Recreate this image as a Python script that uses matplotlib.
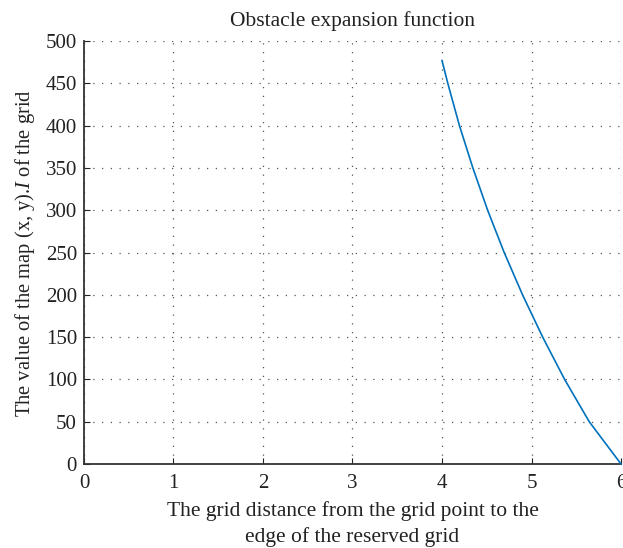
import matplotlib
matplotlib.use("Agg")
import matplotlib.pyplot as plt

# Obstacle expansion curve: grid distance vs. map value
distance = [4.0, 4.065, 4.195, 4.345, 4.51, 4.695, 4.90, 5.125, 5.37, 5.645, 6.0]
map_value = [477, 450, 400, 350, 300, 250, 200, 150, 100, 50, 0]

x_ticks = [0, 1, 2, 3, 4, 5, 6]
y_ticks = [0, 50, 100, 150, 200, 250, 300, 350, 400, 450, 500]

plt.rcParams['font.family'] = 'Liberation Serif'
plt.rcParams['mathtext.fontset'] = 'custom'
plt.rcParams['mathtext.it'] = 'Liberation Serif:italic'
plt.rcParams['mathtext.rm'] = 'Liberation Serif'

fig = plt.figure(figsize=(6.23, 5.48), dpi=100)
ax = fig.add_axes([0.1348, 0.1533, 0.8620, 0.7717])

ax.plot(distance, map_value, color='#0072BD', linewidth=1.2, clip_on=False, zorder=3)

ax.set_xlim(0, 6)
ax.set_ylim(0, 500)
ax.set_xticks(x_ticks)
ax.set_yticks(y_ticks)
ax.tick_params(direction='in', length=4, width=0.8, labelsize=15, colors='#222222', pad=5)
ax.tick_params(axis='x', pad=7)

ax.grid(True, linestyle=(0, (1, 6)), color='#555555', linewidth=0.9)
for side in ['top', 'right']:
    ax.spines[side].set_visible(False)
for side in ['left', 'bottom']:
    ax.spines[side].set_linewidth(1.3)
    ax.spines[side].set_color('#333333')

ax.set_title('Obstacle expansion function', fontsize=15.5, color='#222222', pad=11)
ax.set_xlabel('The grid distance from the grid point to the\nedge of the reserved grid',
              fontsize=15.5, color='#222222', linespacing=1.4, labelpad=6)
ax.set_ylabel('The value of the map (x, y).$I$ of the grid', fontsize=14.8,
              color='#222222', labelpad=6)

fig.savefig('out.png', dpi=100)
